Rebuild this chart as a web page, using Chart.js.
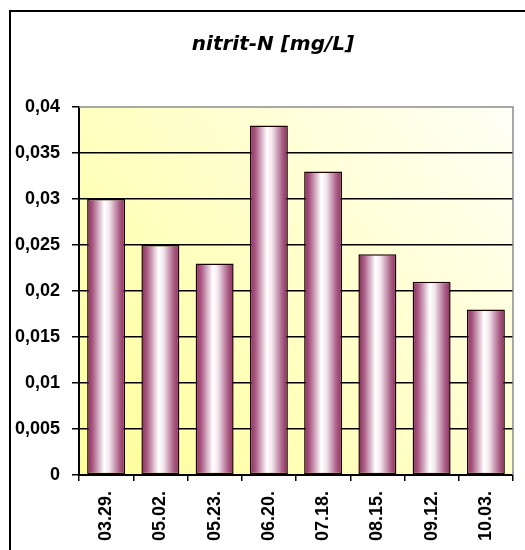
<!DOCTYPE html>
<html>
<head>
<meta charset="utf-8">
<script src="https://cdn.jsdelivr.net/npm/chart.js@4.4.1/dist/chart.umd.min.js"></script>
<style>
  html, body { margin: 0; padding: 0; background: #ffffff; }
  #wrap { position: relative; width: 525px; height: 550px; }
</style>
</head>
<body>
<div id="wrap"><canvas id="c" width="525" height="550"></canvas></div>
<script>
// Sampling dates and measured nitrite-N concentrations
const dates = ['03.29.', '05.02.', '05.23.', '06.20.', '07.18.', '08.15.', '09.12.', '10.03.'];
const nitritN = [0.030, 0.025, 0.023, 0.038, 0.033, 0.024, 0.021, 0.018];
const yTickLabels = ['0', '0,005', '0,01', '0,015', '0,02', '0,025', '0,03', '0,035', '0,04'];
const chartTitle = 'nitrit-N [mg/L]';

const BAR_SHARE = 0.70;

// Horizontal "cylinder" shading for each bar
function barGradient(ctx) {
  const chart = ctx.chart;
  const area = chart.chartArea;
  if (!area || ctx.dataIndex === undefined) return '#b0668c';
  const xs = chart.scales.x;
  const cx = xs.getPixelForValue(ctx.dataIndex);
  const w = (area.right - area.left) / dates.length * BAR_SHARE;
  const g = chart.ctx.createLinearGradient(cx - w / 2, 0, cx + w / 2, 0);
  g.addColorStop(0.00, '#8a2a5a');
  g.addColorStop(0.15, '#aa5c85');
  g.addColorStop(0.45, '#ffffff');
  g.addColorStop(0.58, '#f3e8ee');
  g.addColorStop(0.85, '#ab5f87');
  g.addColorStop(1.00, '#8a2a5a');
  return g;
}

// Outer frame, plot background, title and the plot's grey top/right edge
const decor = {
  id: 'decor',
  beforeDraw(chart) {
    const c = chart.ctx, a = chart.chartArea;
    c.save();
    c.strokeStyle = '#000';
    c.lineWidth = 2;
    c.strokeRect(10, 11, 700, 700);
    const g = c.createLinearGradient(a.left, a.bottom, a.right, a.top);
    g.addColorStop(0, '#ffff99');
    g.addColorStop(0.5, '#ffffc8');
    g.addColorStop(1, '#fffff6');
    c.fillStyle = g;
    c.fillRect(a.left, a.top, a.right - a.left, a.bottom - a.top);
    c.fillStyle = '#000';
    c.font = 'italic bold 20px "DejaVu Sans"';
    c.textAlign = 'center';
    c.textBaseline = 'middle';
    c.fillText(chartTitle, 273, 45);
    c.restore();
  },
  afterDraw(chart) {
    const c = chart.ctx, a = chart.chartArea;
    c.save();
    c.strokeStyle = '#8c8c8c';
    c.lineWidth = 1.5;
    c.beginPath();
    c.moveTo(a.left, a.top);
    c.lineTo(a.right, a.top);
    c.lineTo(a.right, a.bottom);
    c.stroke();
    c.restore();
  }
};

new Chart(document.getElementById('c'), {
  type: 'bar',
  data: {
    labels: dates,
    datasets: [{
      data: nitritN,
      backgroundColor: barGradient,
      borderColor: '#1a0008',
      borderWidth: 1.5,
      borderSkipped: false,
      barPercentage: BAR_SHARE,
      categoryPercentage: 1
    }]
  },
  options: {
    responsive: false,
    animation: false,
    devicePixelRatio: 1,
    layout: { padding: { left: 0, right: 12, top: 107, bottom: 0 } },
    plugins: {
      legend: { display: false },
      tooltip: { enabled: false },
      title: { display: false }
    },
    scales: {
      x: {
        offset: true,
        border: { display: true, color: '#000', width: 2 },
        grid: { display: true, drawOnChartArea: false, drawTicks: true, tickLength: 6, color: '#000', lineWidth: 1.5, offset: true },
        ticks: {
          color: '#000',
          minRotation: 90,
          maxRotation: 90,
          padding: 10,
          font: { family: 'Liberation Sans', size: 18, weight: 'bold' }
        },
        afterFit(s) { s.height = 75; }
      },
      y: {
        min: 0,
        max: 0.04,
        border: { display: true, color: '#000', width: 2 },
        grid: {
          color: (c) => (c.index === yTickLabels.length - 1 ? 'rgba(0,0,0,0)' : '#000'),
          tickColor: '#000',
          lineWidth: 1.5,
          tickLength: 7
        },
        ticks: {
          stepSize: 0.005,
          color: '#000',
          padding: 12,
          font: { family: 'Liberation Sans', size: 18, weight: 'bold' },
          callback: (v, i) => yTickLabels[i]
        },
        afterFit(s) { s.width = 79; }
      }
    }
  },
  plugins: [decor]
});
</script>
</body>
</html>
